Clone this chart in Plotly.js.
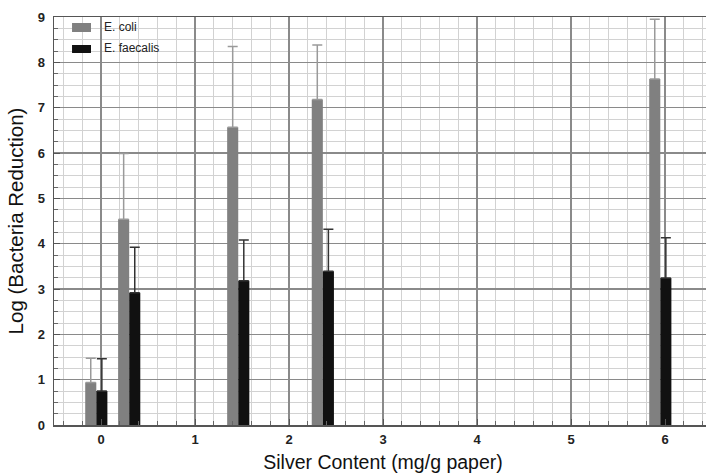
<!DOCTYPE html>
<html>
<head>
<meta charset="utf-8">
<script src="https://cdn.plot.ly/plotly-3.0.1.min.js"></script>
<style>
html,body{margin:0;padding:0;overflow:hidden;background:#fff;}
#chart{width:712px;height:473px;}
</style>
</head>
<body>
<div id="chart"></div>
<script>
// Silver content positions (group centres)
const silver = [-0.05, 0.30, 1.46, 2.36, 5.95];
const ecoliMean = [0.94, 4.54, 6.57, 7.18, 7.63];
const ecoliErr = [0.53, 1.45, 1.78, 1.20, 1.32];
const faecalisMean = [0.75, 2.92, 3.18, 3.39, 3.24];
const faecalisErr = [0.71, 1.00, 0.90, 0.93, 0.89];
const seriesNames = ['E. coli', 'E. faecalis'];
const seriesColors = ['#808080', '#111111'];
const xTicks = [0, 1, 2, 3, 4, 5, 6];
const yTicks = [0, 1, 2, 3, 4, 5, 6, 7, 8, 9];

const zeros = silver.map(() => 0);
const barW = 0.118;
const FONT = 'Liberation Sans, Arial, Helvetica, sans-serif';

const traces = [
  {
    type: 'bar', name: seriesNames[0], x: silver, y: ecoliMean,
    width: barW, offset: -barW, showlegend: false,
    marker: {color: seriesColors[0], line: {width: 0}},
    error_y: {type: 'data', symmetric: false, array: ecoliErr, arrayminus: zeros,
              color: '#9a9a9a', thickness: 1.5, width: 5}
  },
  {
    type: 'bar', name: seriesNames[1], x: silver, y: faecalisMean,
    width: barW, offset: 0, showlegend: false,
    marker: {color: seriesColors[1], line: {width: 0}},
    error_y: {type: 'data', symmetric: false, array: faecalisErr, arrayminus: zeros,
              color: '#333333', thickness: 1.5, width: 5}
  }
];

// Legend drawn as paper-referenced swatches + real-text annotations
const legendRows = [
  {y0: 0.9632, y1: 0.9853, ty: 0.9755},
  {y0: 0.9118, y1: 0.9314, ty: 0.9240}
];
const shapes = legendRows.map((r, i) => ({
  type: 'rect', xref: 'paper', yref: 'paper',
  x0: 0.0274, x1: 0.0562, y0: r.y0, y1: r.y1,
  fillcolor: seriesColors[i], line: {width: 0}
}));
const annotations = legendRows.map((r, i) => ({
  xref: 'paper', yref: 'paper', x: 0.0729, y: r.ty,
  xanchor: 'left', yanchor: 'middle', showarrow: false,
  text: seriesNames[i],
  font: {family: FONT, size: 12, color: '#222'}
}));

const layout = {
  width: 712, height: 473,
  margin: {l: 54, r: 0, t: 17, b: 48},
  paper_bgcolor: '#ffffff', plot_bgcolor: '#ffffff',
  barmode: 'overlay',
  showlegend: false,
  shapes: shapes,
  annotations: annotations,
  xaxis: {
    range: [-0.5, 6.5],
    tickvals: xTicks, ticktext: xTicks.map(String),
    showgrid: true, gridcolor: '#8a8a8a', gridwidth: 1.2,
    minor: {dtick: 0.2, tick0: 0, showgrid: true, gridcolor: '#d2d2d2', gridwidth: 1,
            ticks: 'inside', ticklen: 4, tickcolor: '#666'},
    ticks: 'inside', ticklen: 6, tickcolor: '#555',
    showline: true, linecolor: '#555', linewidth: 1.5, mirror: true,
    zeroline: false,
    ticklabelstandoff: 2,
    tickfont: {family: FONT, size: 13, color: '#222', weight: 700},
    title: {text: 'Silver Content (mg/g paper)', standoff: 9,
            font: {family: FONT, size: 19.5, color: '#111'}}
  },
  yaxis: {
    range: [0, 9],
    tickvals: yTicks, ticktext: yTicks.map(String),
    showgrid: true, gridcolor: '#8a8a8a', gridwidth: 1.2,
    minor: {dtick: 0.25, tick0: 0, showgrid: true, gridcolor: '#d2d2d2', gridwidth: 1,
            ticks: 'inside', ticklen: 4, tickcolor: '#666'},
    ticks: 'inside', ticklen: 6, tickcolor: '#555',
    showline: true, linecolor: '#555', linewidth: 1.5,
    zeroline: false,
    ticklabelstandoff: 5,
    tickfont: {family: FONT, size: 13, color: '#222', weight: 700},
    title: {text: 'Log (Bacteria Reduction)', standoff: 8,
            font: {family: FONT, size: 20.5, color: '#111'}}
  }
};

Plotly.newPlot('chart', traces, layout, {displayModeBar: false, staticPlot: true});
</script>
</body>
</html>
